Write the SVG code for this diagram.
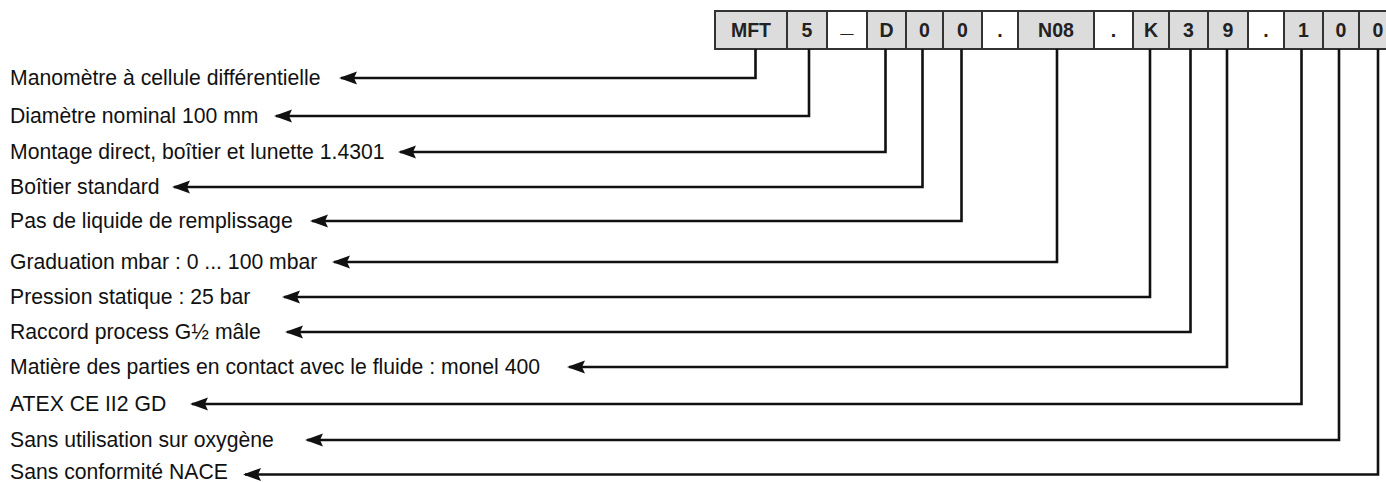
<svg xmlns="http://www.w3.org/2000/svg" width="1386" height="482" viewBox="0 0 1386 482">
<style>
.cell{stroke:#333;stroke-width:2}
.g{fill:#dcdcdc}
.w{fill:#fff}
.code{font-family:"Liberation Sans",Arial,sans-serif;font-weight:bold;font-size:19.5px;fill:#222;text-anchor:middle}
.lbl{font-family:"Liberation Sans",Arial,sans-serif;font-size:21.2px;fill:#111}
.con{fill:none;stroke:#111;stroke-width:2.6}
</style>
<defs>
<marker id="ah" viewBox="0 0 18 14" refX="16" refY="7" markerWidth="18" markerHeight="14" markerUnits="userSpaceOnUse" orient="auto">
<path d="M0,0.5 L18,7 L0,13.5 L3,7 Z" fill="#111"/>
</marker>
</defs>
<g id="code">
<g id="c-MFT"><rect class="cell g" x="715" y="11" width="72" height="38"/><text class="code" x="751" y="37">MFT</text></g>
<g id="c-5"><rect class="cell g" x="787" y="11" width="40" height="38"/><text class="code" x="807" y="37">5</text></g>
<g id="c-us"><rect class="cell w" x="827" y="11" width="40" height="38"/><text class="code" x="847" y="32" style="font-size:23px">_</text></g>
<g id="c-D"><rect class="cell g" x="867" y="11" width="39" height="38"/><text class="code" x="886.5" y="37">D</text></g>
<g id="c-0a"><rect class="cell g" x="906" y="11" width="37" height="38"/><text class="code" x="924.5" y="37">0</text></g>
<g id="c-0b"><rect class="cell g" x="943" y="11" width="39" height="38"/><text class="code" x="962.5" y="37">0</text></g>
<g id="c-d1"><rect class="cell w" x="982" y="11" width="36" height="38"/><text class="code" x="1000" y="37">.</text></g>
<g id="c-N08"><rect class="cell g" x="1018" y="11" width="76" height="38"/><text class="code" x="1056" y="37">N08</text></g>
<g id="c-d2"><rect class="cell w" x="1094" y="11" width="39" height="38"/><text class="code" x="1113.5" y="37">.</text></g>
<g id="c-K"><rect class="cell g" x="1133" y="11" width="36" height="38"/><text class="code" x="1151" y="37">K</text></g>
<g id="c-3"><rect class="cell g" x="1169" y="11" width="39" height="38"/><text class="code" x="1188.5" y="37">3</text></g>
<g id="c-9"><rect class="cell g" x="1208" y="11" width="40" height="38"/><text class="code" x="1228" y="37">9</text></g>
<g id="c-d3"><rect class="cell w" x="1248" y="11" width="36" height="38"/><text class="code" x="1266" y="37">.</text></g>
<g id="c-1"><rect class="cell g" x="1284" y="11" width="39" height="38"/><text class="code" x="1303.5" y="37">1</text></g>
<g id="c-0c"><rect class="cell g" x="1323" y="11" width="36" height="38"/><text class="code" x="1341" y="37">0</text></g>
<g id="c-0d"><rect class="cell g" x="1359" y="11" width="38" height="38"/><text class="code" x="1378" y="37">0</text></g>
</g>
<g id="labels">
<text id="l1" class="lbl" x="10" y="85">Manomètre à cellule différentielle</text>
<text id="l2" class="lbl" x="10" y="123">Diamètre nominal 100 mm</text>
<text id="l3" class="lbl" x="10" y="159">Montage direct, boîtier et lunette 1.4301</text>
<text id="l4" class="lbl" x="10" y="194">Boîtier standard</text>
<text id="l5" class="lbl" x="10" y="228">Pas de liquide de remplissage</text>
<text id="l6" class="lbl" x="10" y="269">Graduation mbar : 0 ... 100 mbar</text>
<text id="l7" class="lbl" x="10" y="304">Pression statique : 25 bar</text>
<text id="l8" class="lbl" x="10" y="339">Raccord process G½ mâle</text>
<text id="l9" class="lbl" x="10" y="374">Matière des parties en contact avec le fluide : monel 400</text>
<text id="l10" class="lbl" x="10" y="411">ATEX CE II2 GD</text>
<text id="l11" class="lbl" x="10" y="447">Sans utilisation sur oxygène</text>
<text id="l12" class="lbl" x="10" y="479">Sans conformité NACE</text>
</g>
<g id="connectors">
<path class="con" marker-end="url(#ah)" d="M755.5,49 V78 H341"/>
<path class="con" marker-end="url(#ah)" d="M809,49 V116 H276"/>
<path class="con" marker-end="url(#ah)" d="M885.5,49 V152 H400"/>
<path class="con" marker-end="url(#ah)" d="M922.5,49 V187 H174"/>
<path class="con" marker-end="url(#ah)" d="M961.5,49 V221 H312"/>
<path class="con" marker-end="url(#ah)" d="M1057,49 V262 H334"/>
<path class="con" marker-end="url(#ah)" d="M1150,49 V297 H284"/>
<path class="con" marker-end="url(#ah)" d="M1190.5,49 V332 H287"/>
<path class="con" marker-end="url(#ah)" d="M1227,49 V367 H569"/>
<path class="con" marker-end="url(#ah)" d="M1301.5,49 V404 H192"/>
<path class="con" marker-end="url(#ah)" d="M1339,49 V440 H307"/>
<path class="con" marker-end="url(#ah)" d="M1378,49 V474.5 H245"/>
</g>
</svg>
